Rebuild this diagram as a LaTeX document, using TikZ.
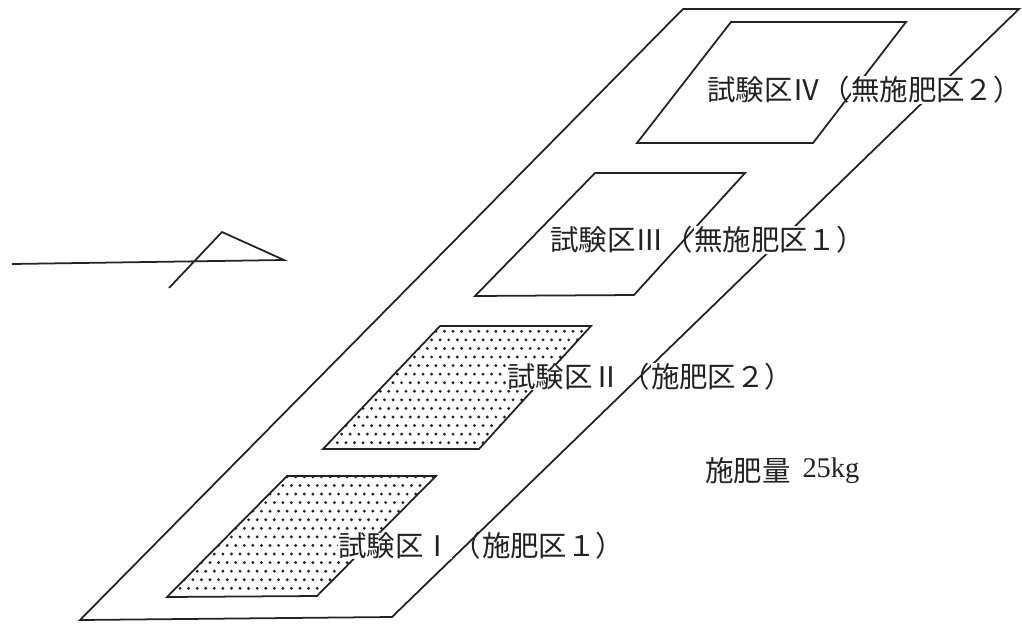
\documentclass[tikz,border=0pt]{standalone}
\usepackage{fontspec}
\setmainfont{Liberation Serif}
\newfontfamily\cjkfont{Noto Sans CJK JP}
\usetikzlibrary{positioning}
\definecolor{inkc}{RGB}{34,34,34}
\tikzset{
  plotb/.style={draw=inkc, line width=1pt, line join=miter},
  labp/.style={font=\cjkfont\fontsize{16.2}{18}\selectfont, text=inkc, inner sep=0pt},
  lab/.style={labp, fill=white},
  labn/.style={font=\fontsize{16.2}{18}\selectfont, text=inkc, inner sep=0pt},
}
\newcommand{\dotfield}[2]{%
  \foreach \row in {0,...,13}
    \foreach \col in {0,...,33}
      \fill[inkc] ({#1+\col*8.57+mod(\row,2)*4.285},{#2-\row*8.57}) circle (1.6);
}
\begin{document}
\begin{tikzpicture}[x=0.02cm,y=-0.02cm]
  \useasboundingbox (0,0) rectangle (1022,623);
  % field
  \draw[plotb] (80,620) -- (683,9) -- (1019,9) -- (392,617) -- cycle;
  % plots
  \draw[plotb] (731,22) -- (906,22) -- (813,143) -- (637,143) -- cycle;
  \draw[plotb] (595,173) -- (745,173) -- (634,295) -- (475,296) -- cycle;
  \begin{scope}
    \clip (440,326) -- (591,326) -- (479,449) -- (323,449) -- cycle;
    \dotfield{320.2}{442.7}
  \end{scope}
  \draw[plotb] (440,326) -- (591,326) -- (479,449) -- (323,449) -- cycle;
  \begin{scope}
    \clip (287,476) -- (436,476) -- (317,596) -- (167,597) -- cycle;
    \dotfield{162.9}{588.3}
  \end{scope}
  \draw[plotb] (287,476) -- (436,476) -- (317,596) -- (167,597) -- cycle;
  % north mark
  \coordinate (tail) at (12,264);
  \coordinate (tip) at (284,260);
  \coordinate (head) at (222,232);
  \coordinate (barb) at (169,288);
  \draw[plotb] (tail) -- (tip) -- (head) -- (barb);
  % labels
  \node[lab, anchor=west] (plotIVa) at (707,90) {試験区Ⅳ};
  \node[labp, right=0pt of plotIVa] (plotIVp) {（};
  \node[lab, right=0pt of plotIVp] (plotIVb) {無施肥区２）};
  \node[lab, anchor=west] (plotIIIa) at (550,240) {試験区Ⅲ};
  \node[labp, right=0pt of plotIIIa] (plotIIIp) {（};
  \node[lab, right=0pt of plotIIIp] (plotIIIb) {無施肥区１）};
  \node[lab, anchor=west] (plotIIa) at (507,377) {試験区Ⅱ};
  \node[labp, right=0pt of plotIIa] (plotIIp) {（};
  \node[lab, right=0pt of plotIIp] (plotIIb) {施肥区２）};
  \node[lab, anchor=west] (plotIa) at (338,546) {試験区Ⅰ};
  \node[labp, right=0pt of plotIa] (plotIp) {（};
  \node[lab, right=0pt of plotIp] (plotIb) {施肥区１）};
  \node[lab, anchor=west] (amounta) at (705,471) {施肥量};
  \node[labn, right=6.3pt of amounta.east, anchor=west] (amountb) {25kg};
\end{tikzpicture}
\end{document}
